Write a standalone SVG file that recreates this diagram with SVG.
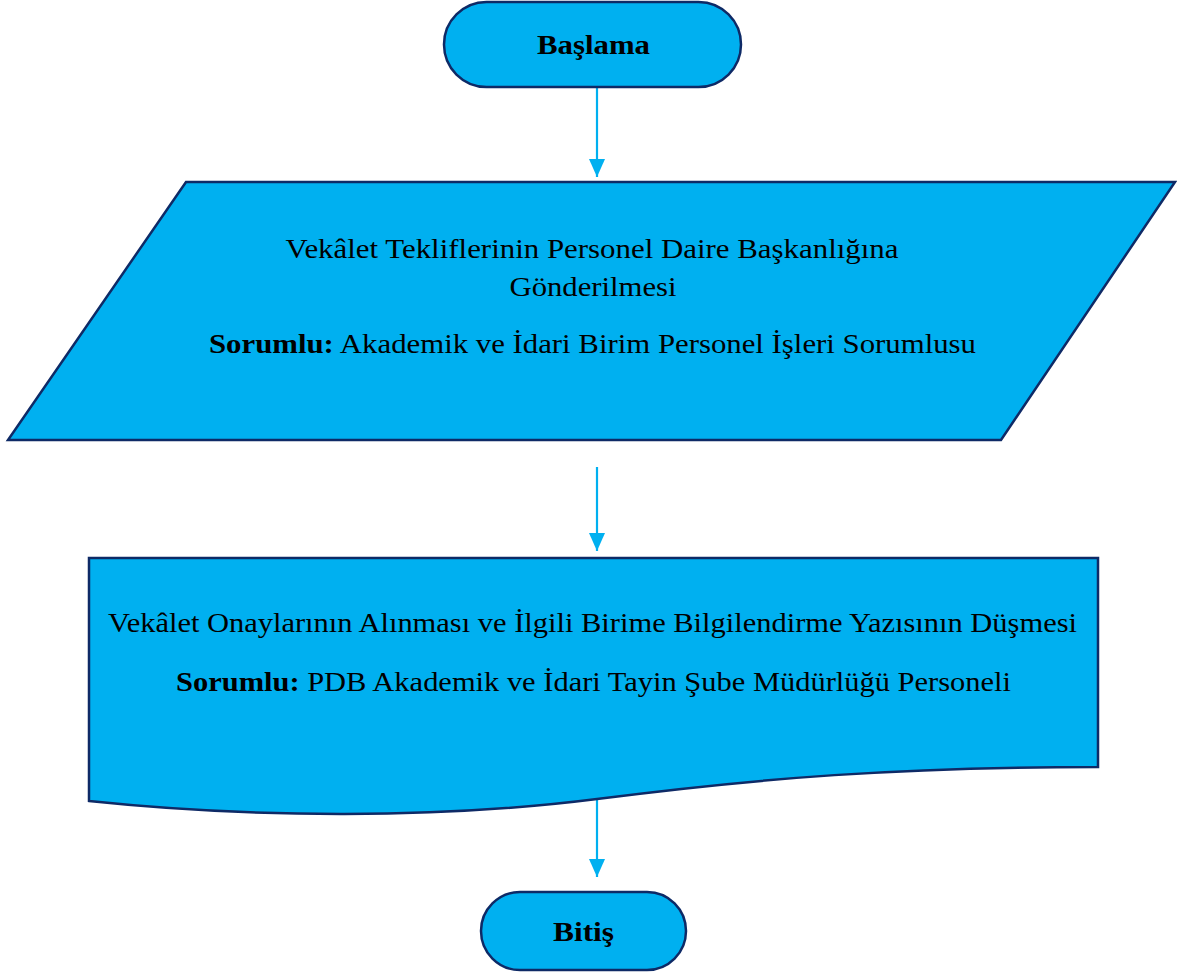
<svg xmlns="http://www.w3.org/2000/svg" width="1177" height="974" viewBox="0 0 1177 974">
<defs>
<style>
.shape{fill:#00B0F0;stroke:#0E2A66;stroke-width:2.5}
.conn{stroke:#00B0F0;stroke-width:2.2;fill:none}
.t{font-family:"Liberation Serif","DejaVu Serif",serif;font-size:28px;fill:#000;text-anchor:middle}
.b{font-weight:bold}
</style>
<marker id="arr" viewBox="0 0 18 16" refX="18" refY="8" markerWidth="18" markerHeight="16" markerUnits="userSpaceOnUse" orient="auto">
<path d="M0,0 L18,8 L0,16 z" fill="#00B0F0"/>
</marker>
</defs>
<g id="connectors">
<line class="conn" x1="597" y1="87" x2="597" y2="177" marker-end="url(#arr)"/>
<line class="conn" x1="597" y1="467" x2="597" y2="551" marker-end="url(#arr)"/>
<line class="conn" x1="597" y1="799" x2="597" y2="877" marker-end="url(#arr)"/>
</g>
<g id="start">
<rect class="shape" x="444" y="2" width="297" height="85" rx="42.5"/>
<text class="t b" x="593.5" y="54" textLength="113" lengthAdjust="spacingAndGlyphs">Başlama</text>
</g>
<g id="send">
<polygon class="shape" points="186,182 1175,182 1001,440 8,440"/>
<text class="t" x="592" y="258" textLength="613" lengthAdjust="spacingAndGlyphs">Vekâlet Tekliflerinin Personel Daire Başkanlığına</text>
<text class="t" x="593" y="296" textLength="167" lengthAdjust="spacingAndGlyphs">Gönderilmesi</text>
<text class="t" x="592.5" y="353" textLength="767" lengthAdjust="spacingAndGlyphs"><tspan class="b">Sorumlu:</tspan> Akademik ve İdari Birim Personel İşleri Sorumlusu</text>
</g>
<g id="approve">
<path class="shape" d="M89,558 L1098,558 L1098,767 C900,767 760,778 597,799 C440,819 250,818 89,801 Z"/>
<text class="t" x="592.5" y="632" textLength="969" lengthAdjust="spacingAndGlyphs">Vekâlet Onaylarının Alınması ve İlgili Birime Bilgilendirme Yazısının Düşmesi</text>
<text class="t" x="593.5" y="691" textLength="835" lengthAdjust="spacingAndGlyphs"><tspan class="b">Sorumlu:</tspan> PDB Akademik ve İdari Tayin Şube Müdürlüğü Personeli</text>
</g>
<g id="end">
<rect class="shape" x="481" y="892" width="205" height="78" rx="39"/>
<text class="t b" x="583.5" y="941" textLength="61" lengthAdjust="spacingAndGlyphs">Bitiş</text>
</g>
</svg>
